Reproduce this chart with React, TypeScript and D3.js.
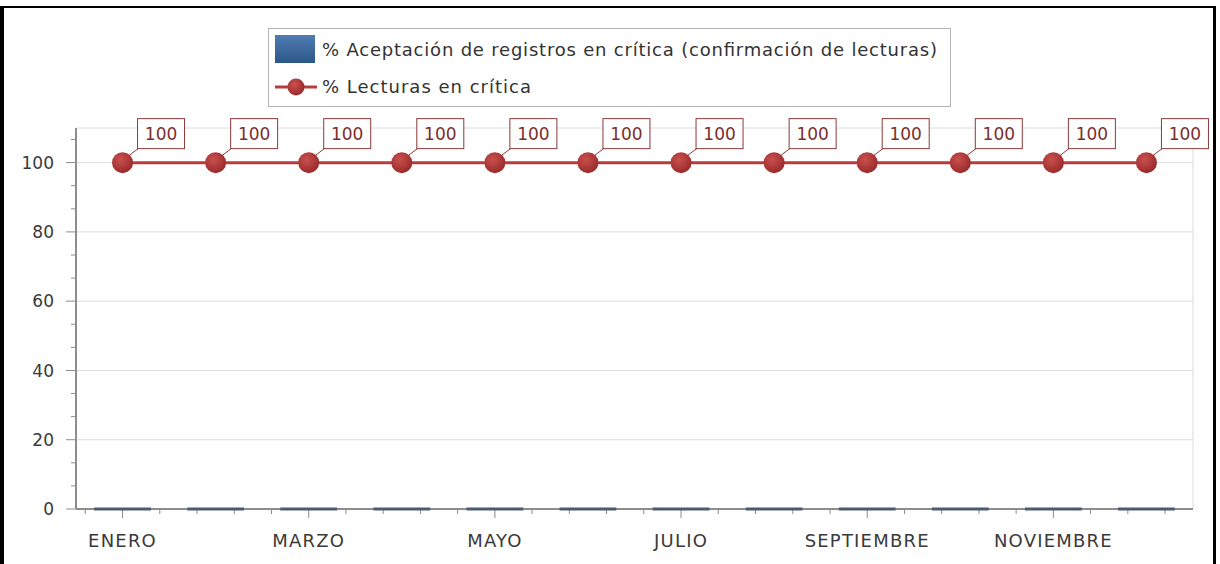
import { useEffect } from 'react'
import * as d3 from 'd3'

const months = ['ENERO', 'FEBRERO', 'MARZO', 'ABRIL', 'MAYO', 'JUNIO', 'JULIO', 'AGOSTO', 'SEPTIEMBRE', 'OCTUBRE', 'NOVIEMBRE', 'DICIEMBRE']
const aceptacion = [0, 0, 0, 0, 0, 0, 0, 0, 0, 0, 0, 0]
const lecturas = [100, 100, 100, 100, 100, 100, 100, 100, 100, 100, 100, 100]
const yTicks = [0, 20, 40, 60, 80, 100]
const legendLabels = ['% Aceptación de registros en crítica (confirmación de lecturas)', '% Lecturas en crítica']

const W = 1220
const H = 564
const FONT = '"DejaVu Sans", sans-serif'

export default function App() {
  useEffect(() => {
    document.body.style.margin = '0'
  }, [])

  const left = 76
  const right = 1193
  const top = 128
  const bottom = 509

  const x = d3.scaleBand<string>().domain(months).range([left, right]).padding(0)
  const xi = d3.scaleLinear().domain([-0.5, months.length - 0.5]).range([left, right])
  const y = d3.scaleLinear().domain([0, 110]).range([bottom, top])

  const bw = x.bandwidth() * 0.61
  const cx = (m: string) => (x(m) ?? 0) + x.bandwidth() / 2

  const line = d3
    .line<number>()
    .x((_, i) => cx(months[i]))
    .y((d) => y(d))

  // minor ticks every 0.4 category, major on every other month
  const xMinor = d3.range(-0.4, months.length - 0.5, 0.4).filter((v) => Math.abs(v - Math.round(v)) > 0.05 || Math.round(v) % 2 === 1)
  const xMajor = months.map((_, i) => i).filter((i) => i % 2 === 0)
  const yMinor = d3.range(0, 110, 20 / 3).filter((v) => Math.abs(v / 20 - Math.round(v / 20)) > 0.01)

  return (
    <svg width={W} height={H} style={{ display: 'block' }}>
      <defs>
        <radialGradient id="pt" cx="40%" cy="35%" r="65%">
          <stop offset="0%" stopColor="#c9504f" />
          <stop offset="100%" stopColor="#9a2b2b" />
        </radialGradient>
        <linearGradient id="sw" x1="0" y1="0" x2="0" y2="1">
          <stop offset="0%" stopColor="#4f7cb3" />
          <stop offset="100%" stopColor="#2c5688" />
        </linearGradient>
      </defs>
      <rect x={0} y={0} width={W} height={H} fill="#fff" />
      {/* outer frame */}
      <rect x={0} y={7} width={4} height={H - 7} fill="#000" />
      <rect x={0} y={6} width={1216} height={2} fill="#000" />
      <rect x={1213} y={6} width={3} height={H - 6} fill="#000" />

      {/* grid */}
      {yTicks.map((t) => (
        <line key={'g' + t} x1={left} x2={right} y1={y(t)} y2={y(t)} stroke="#dcdcdc" />
      ))}
      <line x1={left} x2={right} y1={top} y2={top} stroke="#dcdcdc" />
      <line x1={right} x2={right} y1={top} y2={bottom} stroke="#dcdcdc" />

      {/* y axis */}
      <line x1={left} x2={left} y1={top} y2={bottom} stroke="#8c8c8c" strokeWidth={2} />
      {yTicks.map((t) => (
        <g key={'y' + t}>
          <line x1={left - 10} x2={left} y1={y(t)} y2={y(t)} stroke="#8c8c8c" />
          <text x={54} y={y(t)} dy="0.36em" textAnchor="end" fontFamily={FONT} fontSize={17} fill="#3a3a3a">
            {t}
          </text>
        </g>
      ))}
      {yMinor.map((t) => (
        <line key={'ym' + t} x1={left - 5} x2={left} y1={y(t)} y2={y(t)} stroke="#8c8c8c" />
      ))}

      {/* x axis */}
      <line x1={left} x2={right} y1={bottom} y2={bottom} stroke="#8c8c8c" strokeWidth={2} />
      {xMinor.map((v) => (
        <line key={'xm' + v} x1={xi(v)} x2={xi(v)} y1={bottom} y2={bottom + 5} stroke="#8c8c8c" />
      ))}
      {xMajor.map((i) => (
        <g key={'x' + i}>
          <line x1={cx(months[i])} x2={cx(months[i])} y1={bottom} y2={bottom + 9} stroke="#8c8c8c" />
          <text x={cx(months[i])} y={541} dy="0.36em" textAnchor="middle" fontFamily={FONT} fontSize={18} letterSpacing={1.2} fill="#3a3a3a">
            {months[i]}
          </text>
        </g>
      ))}

      {/* bars (zero values show as a thin strip on the axis) */}
      {aceptacion.map((v, i) => (
        <rect
          key={'b' + i}
          x={cx(months[i]) - bw / 2}
          y={Math.min(y(v), y(0) - 1.5)}
          width={bw}
          height={Math.max(y(0) - y(v), 3)}
          fill="#4b5c72"
        />
      ))}

      {/* line */}
      <path d={line(lecturas) ?? ''} fill="none" stroke="#b83c3c" strokeWidth={3} />
      {lecturas.map((v, i) => {
        const px = cx(months[i])
        const py = y(v)
        return (
          <g key={'p' + i}>
            <line x1={px + 5} y1={py - 6} x2={px + 17} y2={py - 15} stroke="#8b3a3a" />
            <circle cx={px} cy={py} r={10.5} fill="url(#pt)" />
            <rect x={px + 15} y={py - 44} width={47} height={30} fill="#fff" stroke="#8b3a3a" />
            <text x={px + 38.5} y={py - 29} dy="0.36em" textAnchor="middle" fontFamily={FONT} fontSize={17} fill="#7a2e2e">
              {v}
            </text>
          </g>
        )
      })}

      {/* legend */}
      <rect x={268.5} y={28.5} width={682} height={78} fill="#fff" stroke="#b4b4b4" />
      <rect x={275} y={35} width={40} height={28} fill="url(#sw)" />
      <text x={322} y={50} dy="0.36em" fontFamily={FONT} fontSize={18} textLength={615} lengthAdjust="spacing" fill="#333">
        {legendLabels[0]}
      </text>
      <line x1={275} x2={317} y1={87} y2={87} stroke="#b83c3c" strokeWidth={3} />
      <circle cx={296} cy={87} r={8.5} fill="url(#pt)" />
      <text x={322} y={87} dy="0.36em" fontFamily={FONT} fontSize={18} textLength={209} lengthAdjust="spacing" fill="#333">
        {legendLabels[1]}
      </text>
    </svg>
  )
}
